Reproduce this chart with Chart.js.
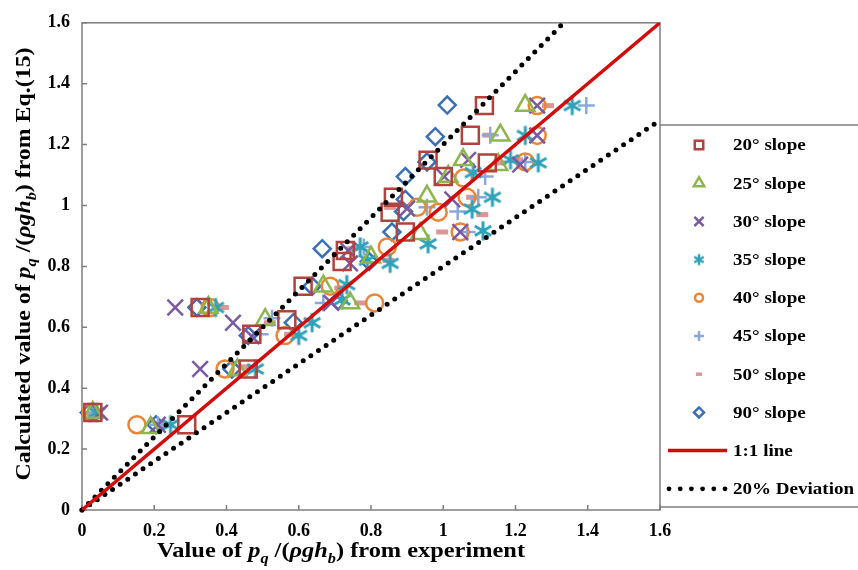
<!DOCTYPE html>
<html>
<head>
<meta charset="utf-8">
<script src="https://cdn.jsdelivr.net/npm/chart.js@4.4.1/dist/chart.umd.min.js"></script>
<style>
  html, body { margin: 0; padding: 0; background: #fff; }
  #wrap { width: 858px; height: 570px; position: relative; }
</style>
</head>
<body>
<div id="wrap"><canvas id="chart" width="858" height="570"></canvas></div>
<script>
const axisTicks = [0, 0.2, 0.4, 0.6, 0.8, 1, 1.2, 1.4, 1.6];

const slope20X = [0.03, 0.29, 0.46, 0.47, 0.567, 0.327, 0.612, 0.729, 0.72, 0.862, 0.853, 0.895, 0.958, 1.0, 1.075, 1.122, 1.114];
const slope20Y = [0.32, 0.28, 0.463, 0.577, 0.625, 0.665, 0.735, 0.852, 0.816, 1.027, 0.978, 0.913, 1.149, 1.095, 1.231, 1.14, 1.328];

const slope25X = [0.03, 0.19, 0.43, 0.507, 0.35, 0.742, 0.668, 0.80, 0.936, 0.955, 1.014, 1.055, 1.152, 1.158, 1.227];
const slope25Y = [0.32, 0.27, 0.46, 0.625, 0.665, 0.68, 0.735, 0.83, 0.907, 1.03, 1.095, 1.15, 1.134, 1.231, 1.328];

const slope30X = [0.05, 0.21, 0.327, 0.258, 0.418, 0.47, 0.69, 0.737, 0.742, 0.90, 1.025, 1.003, 1.069, 1.213, 1.26, 1.26, 1.047];
const slope30Y = [0.32, 0.28, 0.463, 0.665, 0.615, 0.57, 0.68, 0.852, 0.81, 0.99, 1.02, 1.095, 1.15, 1.134, 1.23, 1.328, 0.913];

const slope35X = [0.04, 0.245, 0.48, 0.37, 0.637, 0.60, 0.733, 0.72, 0.77, 0.79, 0.853, 0.958, 1.11, 1.136, 1.08, 1.083, 1.186, 1.263, 1.227, 1.357];
const slope35Y = [0.32, 0.28, 0.463, 0.665, 0.615, 0.573, 0.74, 0.69, 0.864, 0.82, 0.81, 0.874, 0.917, 1.027, 0.988, 1.108, 1.15, 1.14, 1.23, 1.328];

const slope40X = [0.025, 0.152, 0.396, 0.562, 0.355, 0.687, 0.81, 0.845, 0.928, 0.986, 1.066, 1.047, 1.056, 1.227, 1.26, 1.26];
const slope40Y = [0.32, 0.28, 0.463, 0.573, 0.665, 0.735, 0.68, 0.864, 0.994, 0.978, 1.027, 0.913, 1.09, 1.143, 1.23, 1.328];

const slope45X = [0.03, 0.21, 0.493, 0.526, 0.668, 0.78, 0.955, 1.04, 1.066, 1.097, 1.116, 1.13, 1.227, 1.396];
const slope45Y = [0.32, 0.28, 0.577, 0.63, 0.68, 0.864, 0.994, 0.98, 0.913, 1.027, 1.095, 1.231, 1.143, 1.328];

const slope50X = [0.03, 0.22, 0.45, 0.39, 0.52, 0.576, 0.715, 0.77, 0.748, 0.848, 0.853, 0.997, 1.108, 1.08, 1.125, 1.158, 1.205, 1.29];
const slope50Y = [0.315, 0.28, 0.47, 0.665, 0.615, 0.577, 0.729, 0.68, 0.858, 0.82, 0.994, 0.913, 0.97, 1.027, 1.231, 1.14, 1.15, 1.328];

const slope90X = [0.02, 0.205, 0.415, 0.46, 0.318, 0.585, 0.637, 0.709, 0.665, 0.795, 0.858, 0.89, 0.895, 0.895, 0.955, 0.978, 1.011];
const slope90Y = [0.32, 0.28, 0.463, 0.573, 0.665, 0.615, 0.735, 0.687, 0.858, 0.816, 0.913, 0.98, 1.02, 1.095, 1.143, 1.226, 1.33];

const oneToOneX = [0, 1.6];
const oneToOneY = [0, 1.6];
const upperDevX = [0, 1.6 / 1.2];
const upperDevY = [0, 1.6];
const lowerDevX = [0, 1.6];
const lowerDevY = [0, 1.6 * 0.8];

const serif = "'Liberation Serif', 'Times New Roman', serif";

function pts(xs, ys) {
  return xs.map((x, i) => ({ x, y: ys[i] }));
}

function asterisk(r, color, lw) {
  const s = Math.ceil(2 * r + lw + 2);
  const c = document.createElement('canvas');
  c.width = c.height = s;
  const g = c.getContext('2d');
  g.strokeStyle = color;
  g.lineWidth = lw;
  const m = s / 2;
  g.beginPath();
  [90, 30, 150].forEach(a => {
    const t = a * Math.PI / 180;
    g.moveTo(m - r * Math.cos(t), m - r * Math.sin(t));
    g.lineTo(m + r * Math.cos(t), m + r * Math.sin(t));
  });
  g.stroke();
  return c;
}

const series = [
  { label: '20\u00b0 slope', xs: slope20X, ys: slope20Y, color: '#b3413d', style: 'rect', r: 12, lr: 6, bw: 2.5 },
  { label: '25\u00b0 slope', xs: slope25X, ys: slope25Y, color: '#8db64c', style: 'triangle', r: 10.5, lr: 6, bw: 2.5 },
  { label: '30\u00b0 slope', xs: slope30X, ys: slope30Y, color: '#7b59a3', style: 'crossRot', r: 11, lr: 6.5, bw: 2.5 },
  { label: '35\u00b0 slope', xs: slope35X, ys: slope35Y, color: '#2fa2ba', style: 'ast', r: 9.5, lr: 5.5, bw: 3 },
  { label: '40\u00b0 slope', xs: slope40X, ys: slope40Y, color: '#ec8535', style: 'circle', r: 8.5, lr: 4, bw: 2.5 },
  { label: '45\u00b0 slope', xs: slope45X, ys: slope45Y, color: '#8aa8dc', style: 'cross', r: 8.5, lr: 5, bw: 2.5 },
  { label: '50\u00b0 slope', xs: slope50X, ys: slope50Y, color: '#dc9696', style: 'line', r: 6, lr: 3, bw: 5 },
  { label: '90\u00b0 slope', xs: slope90X, ys: slope90Y, color: '#3b6fb6', style: 'rectRot', r: 8.5, lr: 5, bw: 2.5 }
];

series.forEach(s => {
  if (s.style === 'ast') {
    s.img = asterisk(s.r, s.color, s.bw);
    s.limg = asterisk(s.lr, s.color, 2.5);
  }
});

const lineColor = '#d40b0b';

const datasets = [
  {
    label: '1:1 line', data: pts(oneToOneX, oneToOneY), showLine: true,
    borderColor: lineColor, borderWidth: 3.5, pointRadius: 0, clip: 0
  },
  {
    label: '20% Deviation', data: pts(upperDevX, upperDevY), showLine: true,
    borderColor: '#000', borderWidth: 5, borderDash: [0, 9.2], borderCapStyle: 'round',
    pointRadius: 0, clip: 4
  },
  {
    label: '20% Deviation low', data: pts(lowerDevX, lowerDevY), showLine: true,
    borderColor: '#000', borderWidth: 5, borderDash: [0, 9.2], borderCapStyle: 'round',
    pointRadius: 0, clip: 4
  }
].concat(series.map(s => ({
  label: s.label,
  data: pts(s.xs, s.ys),
  showLine: false,
  pointStyle: s.img || s.style,
  pointRadius: s.r,
  pointHoverRadius: s.r,
  pointBorderWidth: s.bw,
  pointBorderColor: s.color,
  pointBackgroundColor: 'rgba(0,0,0,0)',
  clip: false
})));

// draws mixed italic / subscript title centred on the origin, stretched to a given width
function drawRich(ctx, segs, size, width) {
  const subSize = Math.round(size * 0.68);
  const fontOf = (seg) => (seg[1].includes('i') ? 'italic ' : '') + 'bold ' +
    (seg[1].includes('s') ? subSize : size) + 'px ' + serif;
  let total = 0;
  segs.forEach(seg => { ctx.font = fontOf(seg); total += ctx.measureText(seg[0]).width; });
  ctx.scale(width / total, 1);
  let x = -total / 2;
  ctx.textAlign = 'left';
  ctx.textBaseline = 'alphabetic';
  segs.forEach(seg => {
    ctx.font = fontOf(seg);
    ctx.fillText(seg[0], x, seg[1].includes('s') ? size * 0.28 : 0);
    x += ctx.measureText(seg[0]).width;
  });
}

const xTitle = [['Value of ', 'n'], ['p', 'i'], ['q', 'is'], [' /(', 'n'], ['\u03c1gh', 'i'], ['b', 'is'], [') from experiment', 'n']];
const yTitle = [['Calculated value of ', 'n'], ['p', 'i'], ['q', 'is'], [' /(', 'n'], ['\u03c1gh', 'i'], ['b', 'is'], [') from Eq.(15)', 'n']];

const framePlugin = {
  id: 'frame',
  beforeDatasetsDraw(chart) {
    const { ctx, chartArea: a, scales: { x, y } } = chart;
    ctx.save();
    ctx.strokeStyle = '#7f7f7f';
    ctx.lineWidth = 1.5;
    ctx.strokeRect(a.left, a.top, a.right - a.left, a.bottom - a.top);
    ctx.beginPath();
    axisTicks.forEach(v => {
      const px = x.getPixelForValue(v);
      ctx.moveTo(px, a.bottom);
      ctx.lineTo(px, a.bottom - 5);
      const py = y.getPixelForValue(v);
      ctx.moveTo(a.left, py);
      ctx.lineTo(a.left + 5, py);
    });
    ctx.stroke();
    ctx.restore();
  },
  afterDraw(chart) {
    const { ctx, chartArea: a } = chart;
    ctx.save();
    ctx.fillStyle = '#000';
    ctx.translate(341, 557);
    drawRich(ctx, xTitle, 21, 368);
    ctx.restore();

    ctx.save();
    ctx.fillStyle = '#000';
    ctx.translate(30, 264);
    ctx.rotate(-Math.PI / 2);
    drawRich(ctx, yTitle, 22, 433);
    ctx.restore();

    // legend box
    const lx = a.right, top = 125, bottom = 507;
    ctx.save();
    ctx.strokeStyle = '#7f7f7f';
    ctx.lineWidth = 1.5;
    ctx.beginPath();
    ctx.moveTo(lx, top); ctx.lineTo(858, top);
    ctx.moveTo(lx, bottom); ctx.lineTo(858, bottom);
    ctx.stroke();
    const rowY = i => 145 + i * 38.2;
    const mx = 699, tx = 733;
    const label = (text, yy) => {
      ctx.save();
      ctx.fillStyle = '#000';
      ctx.font = 'bold 17px ' + serif;
      ctx.textBaseline = 'middle';
      ctx.textAlign = 'left';
      ctx.translate(tx, yy + 1);
      ctx.scale(1.12, 1);
      ctx.fillText(text, 0, 0);
      ctx.restore();
    };
    series.forEach((s, i) => {
      const yy = rowY(i);
      if (s.limg) {
        ctx.drawImage(s.limg, mx - s.limg.width / 2, yy - s.limg.height / 2);
      } else if (Chart.helpers && Chart.helpers.drawPoint) {
        ctx.strokeStyle = s.color;
        ctx.fillStyle = 'rgba(0,0,0,0)';
        ctx.lineWidth = s.style === 'line' ? 3.5 : 2.5;
        Chart.helpers.drawPoint(ctx, { pointStyle: s.style, radius: s.lr, borderWidth: ctx.lineWidth, rotation: 0 }, mx, yy);
      }
      label(s.label, yy);
    });
    let yy = rowY(8);
    ctx.strokeStyle = lineColor;
    ctx.lineWidth = 3.5;
    ctx.beginPath(); ctx.moveTo(668, yy); ctx.lineTo(727, yy); ctx.stroke();
    label('1:1 line', yy);
    yy = rowY(9);
    ctx.fillStyle = '#000';
    for (let k = 0; k < 6; k++) {
      ctx.beginPath();
      ctx.arc(669 + k * 11.2, yy, 2.4, 0, Math.PI * 2);
      ctx.fill();
    }
    label('20% Deviation', yy);
    ctx.restore();
  }
};

const tickFont = { family: serif, size: 18, weight: 'bold' };

new Chart(document.getElementById('chart'), {
  type: 'scatter',
  data: { datasets },
  options: {
    responsive: false,
    animation: false,
    events: [],
    layout: { padding: { top: 16, right: 198, left: 0, bottom: 0 } },
    plugins: { legend: { display: false }, tooltip: { enabled: false } },
    scales: {
      x: {
        type: 'linear', min: 0, max: 1.6,
        afterBuildTicks: sc => { sc.ticks = axisTicks.map(v => ({ value: v })); },
        afterFit: sc => { sc.height = 60; },
        ticks: { font: tickFont, color: '#000', padding: 11, maxRotation: 0, autoSkip: false,
          callback: v => String(+v.toFixed(1)) },
        grid: { display: false, drawTicks: false },
        border: { display: false }
      },
      y: {
        type: 'linear', min: 0, max: 1.6,
        afterBuildTicks: sc => { sc.ticks = axisTicks.map(v => ({ value: v })); },
        afterFit: sc => { sc.width = 82; },
        ticks: { font: tickFont, color: '#000', padding: 12, autoSkip: false,
          callback: v => String(+v.toFixed(1)) },
        grid: { display: false, drawTicks: false },
        border: { display: false }
      }
    }
  },
  plugins: [framePlugin]
});
</script>
</body>
</html>
